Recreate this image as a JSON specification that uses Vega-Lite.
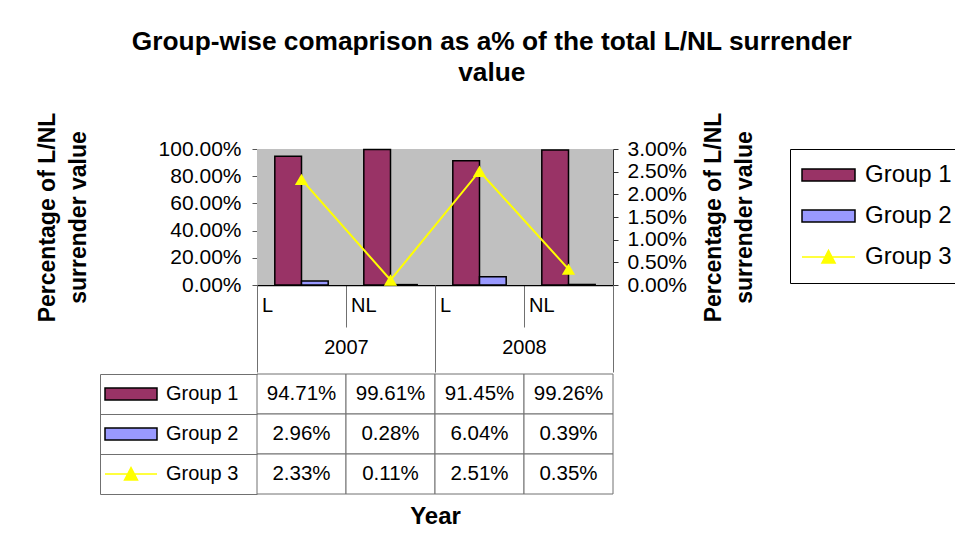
{
  "$schema": "https://vega.github.io/schema/vega-lite/v6.json",
  "padding": {"left": 36, "top": 28, "right": 0, "bottom": 0},
  "background": "white",
  "title": {
    "text": ["Group-wise comaprison as a% of the total L/NL surrender", "value"],
    "fontSize": 26.3, "fontWeight": "bold", "font": "Liberation Sans", "anchor": "middle",
    "lineHeight": 31, "offset": 26, "color": "black", "dx": -8
  },
  "datasets": {
    "d": [
      {"year": "2007", "type": "L", "cat": "2007 L", "group": "Group 1", "value": 0.9471},
      {"year": "2007", "type": "L", "cat": "2007 L", "group": "Group 2", "value": 0.0296},
      {"year": "2007", "type": "L", "cat": "2007 L", "group": "Group 3", "value": 0.0233},
      {"year": "2007", "type": "NL", "cat": "2007 NL", "group": "Group 1", "value": 0.9961},
      {"year": "2007", "type": "NL", "cat": "2007 NL", "group": "Group 2", "value": 0.0028},
      {"year": "2007", "type": "NL", "cat": "2007 NL", "group": "Group 3", "value": 0.0011},
      {"year": "2008", "type": "L", "cat": "2008 L", "group": "Group 1", "value": 0.9145},
      {"year": "2008", "type": "L", "cat": "2008 L", "group": "Group 2", "value": 0.0604},
      {"year": "2008", "type": "L", "cat": "2008 L", "group": "Group 3", "value": 0.0251},
      {"year": "2008", "type": "NL", "cat": "2008 NL", "group": "Group 1", "value": 0.9926},
      {"year": "2008", "type": "NL", "cat": "2008 NL", "group": "Group 2", "value": 0.0039},
      {"year": "2008", "type": "NL", "cat": "2008 NL", "group": "Group 3", "value": 0.0035}
    ],
    "years": [{"year": "2007"}, {"year": "2008"}]
  },
  "spacing": 0,
  "vconcat": [
    {
      "width": 356,
      "height": 136,
      "layer": [
        {
          "data": {"name": "d"},
          "mark": {"type": "rect"},
          "encoding": {
            "x": {
              "field": "cat", "type": "nominal",
              "scale": {"type": "band", "paddingInner": 0, "paddingOuter": 0},
              "axis": null
            },
            "color": {
              "field": "group", "type": "nominal",
              "scale": {"domain": ["Group 1", "Group 2", "Group 3"], "range": ["#993366", "#9999FF", "#FFFF00"]},
              "legend": {
                "orient": "right", "title": null, "offset": 33, "padding": 11, "strokeColor": "black",
                "fillColor": "white", "labelFontSize": 24, "labelOffset": 9, "symbolSize": 2809,
                "clipHeight": 30, "rowPadding": 11, "labelColor": "black",
                "encode": {"symbols": {"update": {
                  "shape": {"signal": "datum.value === 'Group 3' ? 'M-1,0H1M-0.25,0.23L0,-0.25L0.25,0.23Z' : 'M-1,-0.23H1V0.23H-1Z'"},
                  "fill": {"signal": "datum.value === 'Group 1' ? '#993366' : datum.value === 'Group 2' ? '#9999FF' : '#FFFF00'"},
                  "stroke": {"signal": "datum.value === 'Group 3' ? '#FFFF00' : '#000000'"},
                  "strokeWidth": {"value": 1.5}, "opacity": {"value": 1}, "fillOpacity": {"value": 1}
                }}}
              }
            }
          }
        },
        {
          "data": {"name": "years"},
          "mark": {"type": "rect", "fill": "#C0C0C0"},
          "encoding": {
            "x": {
              "field": "year", "type": "nominal",
              "scale": {"type": "band", "paddingInner": 0, "paddingOuter": 0},
              "axis": {
                "orient": "bottom", "title": null, "tickBand": "extent", "tickSize": 87,
                "tickColor": "#707070", "tickWidth": 1, "domain": false,
                "labelPadding": -35, "labelFontSize": 20, "labelAngle": 0, "labelBaseline": "top"
              }
            }
          }
        },
        {
          "data": {"name": "d"},
          "transform": [{"filter": "datum.group !== 'Group 3'"}],
          "mark": {"type": "bar", "stroke": "black", "strokeWidth": 1.5},
          "encoding": {
            "x": {
              "field": "cat", "type": "nominal",
              "scale": {"type": "band", "paddingInner": 0, "paddingOuter": 0},
              "axis": {
                "orient": "bottom", "title": null, "bandPosition": 0, "tickSize": 42,
                "tickColor": "#707070", "domainColor": "black", "domainWidth": 1.5,
                "labelAlign": "left", "labelOffset": -39.5, "labelPadding": -32, "labelFontSize": 20,
                "labelAngle": 0, "labelBaseline": "top", "labelExpr": "split(datum.label, ' ')[1]"
              }
            },
            "xOffset": {"field": "group", "type": "nominal", "scale": {"paddingInner": 0, "paddingOuter": 0.667}},
            "y": {
              "field": "value", "type": "quantitative",
              "scale": {"domain": [0, 1], "nice": false},
              "axis": {
                "orient": "left", "title": ["Percentage of L/NL", "surrender value"],
                "titleFontSize": 23, "titleFontWeight": "bold", "titleLineHeight": 31, "titlePadding": 68,
                "values": [0, 0.2, 0.4, 0.6, 0.8, 1], "format": ".2%", "labelFontSize": 21,
                "labelPadding": 11, "tickSize": 5, "tickColor": "#555555", "domainColor": "#555555",
                "grid": false, "labelFlush": false, "labelOverlap": false
              }
            },
            "color": {
              "field": "group", "type": "nominal",
              "scale": {"domain": ["Group 1", "Group 2", "Group 3"], "range": ["#993366", "#9999FF", "#FFFF00"]},
              "legend": null
            }
          }
        },
        {
          "data": {"name": "d"},
          "transform": [{"filter": "datum.group === 'Group 3'"}],
          "mark": {"type": "line", "color": "#FFFF00", "strokeWidth": 2, "point": {"shape": "triangle-up", "size": 175, "filled": true, "color": "#FFFF00"}},
          "encoding": {
            "x": {
              "field": "cat", "type": "nominal",
              "scale": {"type": "band", "paddingInner": 0, "paddingOuter": 0},
              "axis": null
            },
            "y": {
              "field": "value", "type": "quantitative",
              "scale": {"domain": [0, 0.03], "nice": false},
              "axis": {
                "orient": "right", "title": ["Percentage of L/NL", "surrender value"],
                "titleAngle": 270, "titleBaseline": "top",
                "titleFontSize": 23, "titleFontWeight": "bold", "titleLineHeight": 31, "titlePadding": -15,
                "values": [0, 0.005, 0.01, 0.015, 0.02, 0.025, 0.03], "format": ".2%", "labelFontSize": 21,
                "labelPadding": 9, "tickSize": 5, "tickColor": "#333333", "domainColor": "#333333",
                "grid": false, "labelFlush": false, "labelOverlap": false
              }
            }
          }
        }
      ],
      "resolve": {"scale": {"x": "independent", "y": "independent"}}
    },
    {
      "width": 356,
      "height": 120,
      "data": {"name": "d"},
      "encoding": {
        "x": {
          "field": "cat", "type": "nominal",
          "scale": {"type": "band", "paddingInner": 0, "paddingOuter": 0},
          "axis": {
            "orient": "bottom", "title": "Year", "titleFontSize": 24, "titleFontWeight": "bold",
            "titlePadding": 10, "labels": false, "ticks": false, "domain": false
          }
        },
        "y": {
          "field": "group", "type": "nominal",
          "scale": {"type": "band", "paddingInner": 0, "paddingOuter": 0},
          "axis": {
            "orient": "left", "title": null, "labels": false, "offset": 157, "tickSize": -157,
            "tickBand": "extent", "tickColor": "#707070", "domainColor": "#707070"
          }
        }
      },
      "layer": [
        {
          "mark": {"type": "rect"},
          "encoding": {
            "color": {
              "field": "group", "type": "nominal",
              "scale": {"domain": ["Group 1", "Group 2", "Group 3"], "range": ["#993366", "#9999FF", "#FFFF00"]},
              "legend": {
                "orient": "left", "title": null, "offset": -140, "padding": 0, "clipHeight": 40,
                "rowPadding": 0, "labelFontSize": 20, "labelOffset": 8, "symbolSize": 2704, "labelColor": "black",
                "encode": {"symbols": {"update": {
                  "shape": {"signal": "datum.value === 'Group 3' ? 'M-1,0H1M-0.25,0.23L0,-0.25L0.25,0.23Z' : 'M-1,-0.23H1V0.23H-1Z'"},
                  "fill": {"signal": "datum.value === 'Group 1' ? '#993366' : datum.value === 'Group 2' ? '#9999FF' : '#FFFF00'"},
                  "stroke": {"signal": "datum.value === 'Group 3' ? '#FFFF00' : '#000000'"},
                  "strokeWidth": {"value": 1.5}, "opacity": {"value": 1}, "fillOpacity": {"value": 1}
                }}}
              }
            }
          }
        },
        {"mark": {"type": "rect", "fill": "white", "stroke": "#707070", "strokeWidth": 1}},
        {
          "mark": {"type": "text", "fontSize": 20.5, "color": "black"},
          "encoding": {"text": {"field": "value", "type": "quantitative", "format": ".2%"}}
        }
      ]
    }
  ],
  "resolve": {
    "scale": {"color": "independent", "x": "independent", "y": "independent"},
    "legend": {"color": "independent"}
  },
  "config": {
    "font": "Liberation Sans",
    "view": {"stroke": null},
    "axis": {"labelFont": "Liberation Sans", "titleFont": "Liberation Sans", "labelColor": "black", "titleColor": "black"},
    "legend": {"labelFont": "Liberation Sans"},
    "text": {"font": "Liberation Sans"}
  }
}
